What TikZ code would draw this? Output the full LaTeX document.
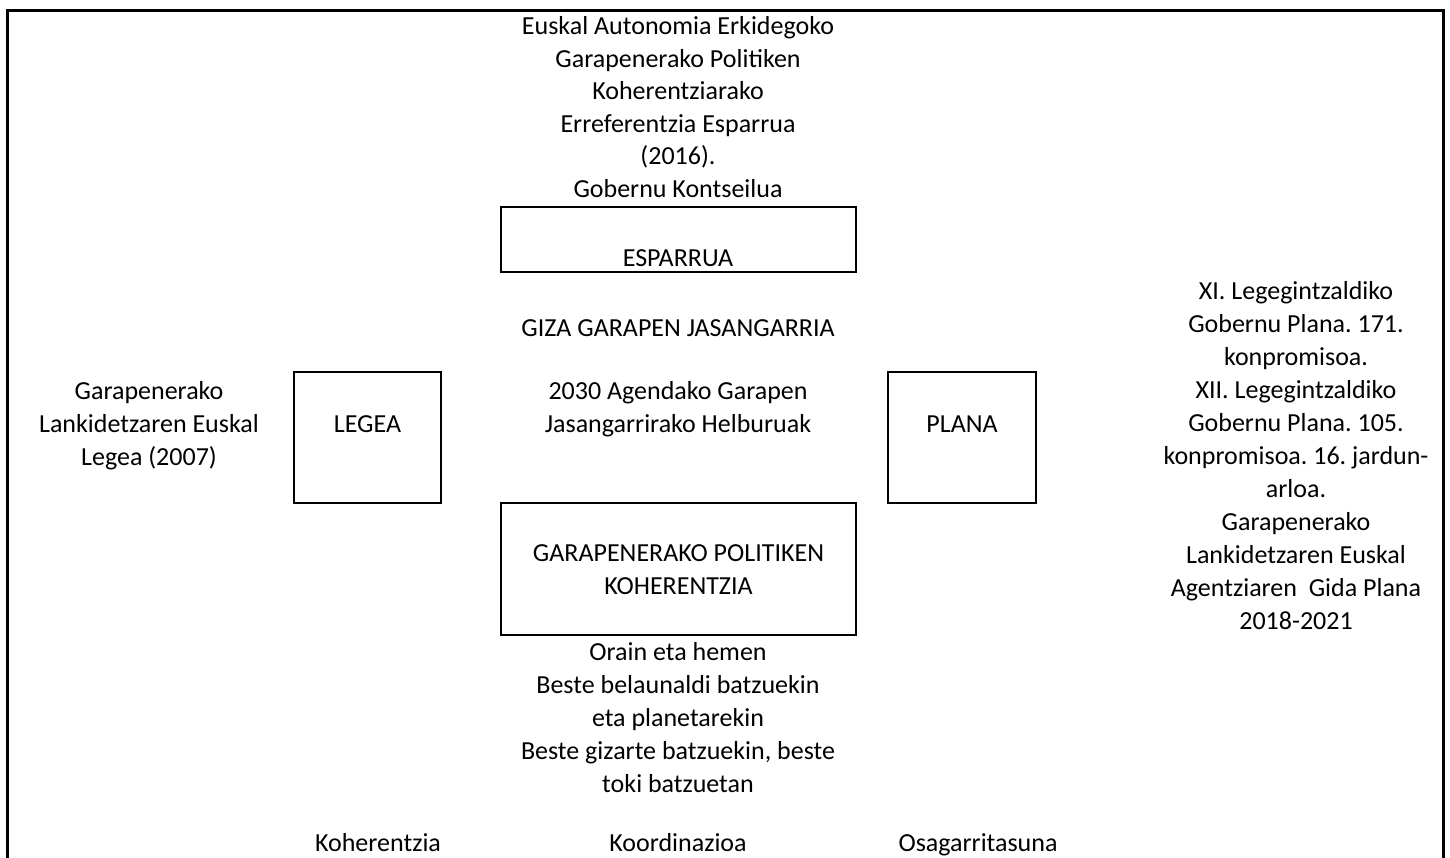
\documentclass[tikz,border=0pt]{standalone}
\usepackage{fontspec}
\setmainfont{Carlito}
\frenchspacing
\begin{document}
\begin{tikzpicture}[x=1pt,y=-1pt,
  txt/.style={align=center,inner sep=0pt,font=\fontsize{26}{33}\selectfont},
  boxx/.style={draw,line width=2pt,inner sep=0pt},
  frame/.style={line width=3pt}]
\useasboundingbox (0,0) rectangle (1450,857);
\draw[frame] (7,880) -- (7,10) -- (1443,10) -- (1443,880);
% boxes
\node[boxx,minimum width=355pt,minimum height=65pt] (esp) at (678.5,239.5) {};
\node[boxx,minimum width=147pt,minimum height=131pt] (leg) at (367.5,437.5) {};
\node[boxx,minimum width=148pt,minimum height=131pt] (pla) at (962,437.5) {};
\node[boxx,minimum width=355pt,minimum height=132pt] (gpk) at (678.5,569) {};
% texts (anchor=base is the baseline of the last line)
\node[txt,anchor=base,font=\fontsize{26}{32.5}\selectfont] (title) at (678,197) {Euskal Autonomia Erkidegoko\\Garapenerako Politiken\\Koherentziarako\\Erreferentzia Esparrua\\(2016).\\Gobernu Kontseilua};
\node[txt] (espt) at (678,258) {ESPARRUA};
\node[txt] (giza) at (678,328) {GIZA GARAPEN JASANGARRIA};
\node[txt,anchor=base] (agenda) at (678,432) {2030 Agendako Garapen\\Jasangarrirako Helburuak};
\node[txt] (legt) at (367.5,424) {LEGEA};
\node[txt] (plat) at (962,424) {PLANA};
\node[txt,anchor=base] (lege) at (149,465) {Garapenerako\\Lankidetzaren Euskal\\Legea (2007)};
\node[txt,anchor=base] (plan) at (1296,629) {XI. Legegintzaldiko\\Gobernu Plana. 171.\\konpromisoa.\\XII. Legegintzaldiko\\Gobernu Plana. 105.\\konpromisoa. 16. jardun-\\arloa.\\Garapenerako\\Lankidetzaren Euskal\\Agentziaren~ Gida Plana\\2018-2021};
\node[txt,anchor=base] (gpkt) at (678.5,594) {GARAPENERAKO POLITIKEN\\KOHERENTZIA};
\node[txt,anchor=base] (orain) at (678,792) {Orain eta hemen\\Beste belaunaldi batzuekin\\eta planetarekin\\Beste gizarte batzuekin, beste\\toki batzuetan};
\node[txt,anchor=base] (koh) at (378,851) {Koherentzia};
\node[txt,anchor=base] (koo) at (678,851) {Koordinazioa};
\node[txt,anchor=base] (osa) at (978,851) {Osagarritasuna};
\end{tikzpicture}
\end{document}
